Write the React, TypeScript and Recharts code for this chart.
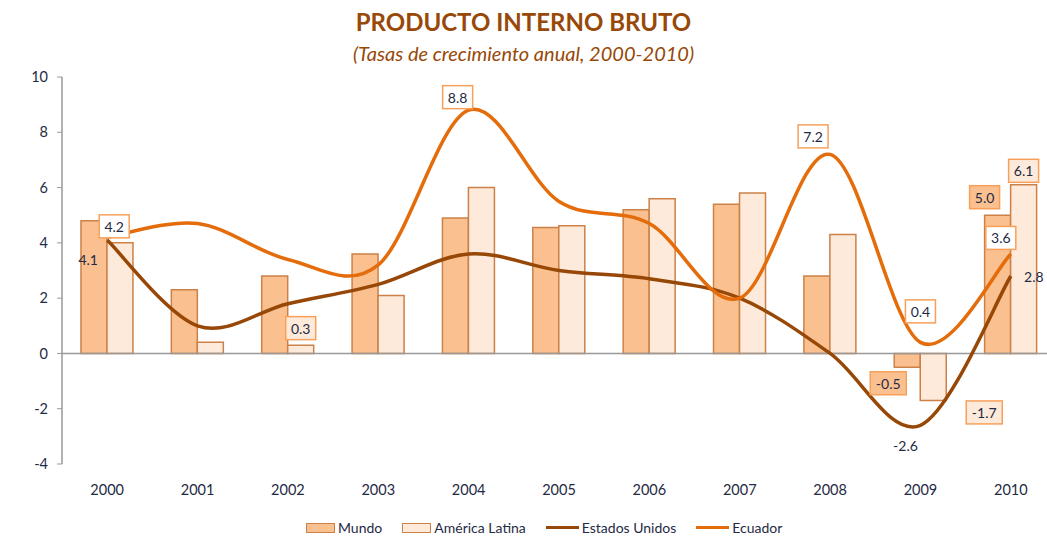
import React from 'react';
import {
  ComposedChart,
  Bar,
  Line,
  XAxis,
  YAxis,
  ReferenceLine,
  LabelList,
  Legend,
} from 'recharts';

const years = ['2000', '2001', '2002', '2003', '2004', '2005', '2006', '2007', '2008', '2009', '2010'];
const mundo = [4.8, 2.3, 2.8, 3.6, 4.9, 4.56, 5.2, 5.4, 2.8, -0.5, 5.0];
const americaLatina = [4.0, 0.4, 0.3, 2.1, 6.0, 4.62, 5.6, 5.8, 4.3, -1.7, 6.1];
const estadosUnidos = [4.1, 1.0, 1.8, 2.5, 3.6, 3.0, 2.7, 2.0, 0.0, -2.6, 2.8];
const ecuador = [4.2, 4.7, 3.4, 3.2, 8.8, 5.5, 4.7, 2.0, 7.2, 0.4, 3.6];
const yTicks = [-4, -2, 0, 2, 4, 6, 8, 10];
const legendOrder = ['Mundo', 'América Latina', 'Estados Unidos', 'Ecuador'];

const data = years.map((year, i) => ({
  year,
  mundo: mundo[i],
  americaLatina: americaLatina[i],
  estadosUnidos: estadosUnidos[i],
  ecuador: ecuador[i],
}));

const FONT = 'Lato, "Open Sans", sans-serif';
const TEXT = '#1F2A44';
const C_MUNDO_FILL = '#FAC090';
const C_AL_FILL = '#FDEADA';
const C_BAR_STROKE = '#CC8148';
const C_US = '#974706';
const C_EC = '#E46C0A';
const C_BOX = '#F8A05A';

// Excel-like smooth curve (Catmull-Rom through the points)
const excelCurve = (context: any) => {
  let pts: [number, number][] = [];
  return {
    areaStart() {},
    areaEnd() {},
    lineStart() {
      pts = [];
    },
    lineEnd() {
      const n = pts.length;
      if (n === 0) return;
      context.moveTo(pts[0][0], pts[0][1]);
      for (let i = 0; i < n - 1; i++) {
        const p0 = pts[i - 1] || pts[i];
        const p1 = pts[i];
        const p2 = pts[i + 1];
        const p3 = pts[i + 2] || pts[i + 1];
        const c1x = p1[0] + (p2[0] - p0[0]) / 6;
        const c1y = p1[1] + (p2[1] - p0[1]) / 6;
        const c2x = p2[0] - (p3[0] - p1[0]) / 6;
        const c2y = p2[1] - (p3[1] - p1[1]) / 6;
        context.bezierCurveTo(c1x, c1y, c2x, c2y, p2[0], p2[1]);
      }
    },
    point(x: number, y: number) {
      pts.push([+x, +y]);
    },
  };
};

type Offsets = Record<number, [number, number]>;

const makeLabel =
  (offsets: Offsets, boxFill: string | null, isBar: boolean) =>
  (props: any) => {
    const idx = props.index;
    if (!(idx in offsets)) return null;
    const vb = props.viewBox || {};
    const x = vb.x ?? props.x;
    const y = vb.y ?? props.y;
    const w = vb.width ?? props.width ?? 0;
    const h = vb.height ?? props.height ?? 0;
    const value = Number(props.value);
    let ax = x;
    let ay = y;
    if (isBar) {
      ax = x + w / 2;
      ay = value >= 0 ? Math.min(y, y + h) : Math.max(y, y + h);
    }
    const [dx, dy] = offsets[idx];
    const cx = ax + dx;
    const cy = ay + dy;
    const text = value.toFixed(1);
    const bw = text.length * 6 + 12;
    const bh = 23;
    return (
      <g>
        {boxFill && (
          <rect
            x={cx - bw / 2}
            y={cy - bh / 2}
            width={bw}
            height={bh}
            fill={boxFill}
            stroke={C_BOX}
            strokeWidth={1.5}
          />
        )}
        <text
          x={cx}
          y={cy}
          textAnchor="middle"
          dominantBaseline="central"
          fontFamily={FONT}
          fontSize={14}
          fill={TEXT}
        >
          {text}
        </text>
      </g>
    );
  };

const ecuadorOffsets: Offsets = { 0: [7, -11], 4: [-11, -13], 8: [-17, -18], 9: [0, -31], 10: [-10, -16] };
const usOffsets: Offsets = { 0: [-19, 19], 9: [-15, 20], 10: [23, 0] };
const mundoOffsets: Offsets = { 9: [-19, 16], 10: [-13, -18] };
const alOffsets: Offsets = { 2: [0, -17], 9: [51, 12], 10: [0, -14] };

const renderLegend = (props: any) => {
  const payload = [...(props.payload || [])].sort(
    (a: any, b: any) => legendOrder.indexOf(a.value) - legendOrder.indexOf(b.value)
  );
  return (
    <div
      style={{
        display: 'flex',
        alignItems: 'center',
        paddingLeft: 306,
        fontFamily: FONT,
        fontSize: 14,
        color: TEXT,
      }}
    >
      {payload.map((p: any, i: number) => {
        const isBar = p.type === 'rect';
        const fill = p.value === 'Mundo' ? C_MUNDO_FILL : C_AL_FILL;
        return (
          <div key={i} style={{ display: 'flex', alignItems: 'center', marginRight: 20 }}>
            {isBar ? (
              <span
                style={{
                  display: 'inline-block',
                  width: 27,
                  height: 8,
                  background: fill,
                  border: `1.5px solid ${C_BAR_STROKE}`,
                  marginRight: 3,
                }}
              />
            ) : (
              <span
                style={{
                  display: 'inline-block',
                  width: 33,
                  height: 3,
                  background: p.color,
                  marginRight: 3,
                }}
              />
            )}
            <span>{p.value}</span>
          </div>
        );
      })}
    </div>
  );
};

export default function App() {
  return (
    <div
      style={{
        position: 'absolute',
        left: 0,
        top: 0,
        width: 1047,
        height: 541,
        overflow: 'hidden',
        background: '#FFFFFF',
      }}
    >
      <div
        style={{
          position: 'absolute',
          top: 7,
          left: 0,
          width: 1047,
          textAlign: 'center',
          fontFamily: FONT,
          fontWeight: 700,
          fontSize: 24,
          color: '#984807',
          lineHeight: '30px',
        }}
      >
        PRODUCTO INTERNO BRUTO
      </div>
      <div
        style={{
          position: 'absolute',
          top: 39,
          left: 0,
          width: 1047,
          textAlign: 'center',
          fontFamily: FONT,
          fontStyle: 'italic',
          fontSize: 20,
          color: '#984807',
          lineHeight: '28px',
        }}
      >
        (Tasas de crecimiento anual, 2000-2010)
      </div>
      <div style={{ position: 'absolute', left: 0, top: 0 }}>
        <ComposedChart
          width={1060}
          height={541}
          data={data}
          margin={{ top: 77, right: 4, bottom: 47, left: 22 }}
          barCategoryGap="21%"
          barGap={0}
        >
          <XAxis
            dataKey="year"
            axisLine={false}
            tickLine={false}
            tickSize={0}
            tickMargin={21}
            height={30}
            interval={0}
            tick={{ fontFamily: FONT, fontSize: 14.5, fill: TEXT }}
          />
          <YAxis
            domain={[-4, 10]}
            ticks={yTicks}
            interval={0}
            width={40}
            axisLine={{ stroke: '#999999', strokeWidth: 1.5 }}
            tickLine={{ stroke: '#999999' }}
            tickSize={5}
            tickMargin={9}
            tick={{ fontFamily: FONT, fontSize: 14.5, fill: TEXT }}
          />
          <ReferenceLine y={0} stroke="#999999" strokeWidth={1.5} />
          <Bar
            dataKey="mundo"
            name="Mundo"
            fill={C_MUNDO_FILL}
            stroke={C_BAR_STROKE}
            strokeWidth={1.5}
            isAnimationActive={false}
          >
            <LabelList dataKey="mundo" content={makeLabel(mundoOffsets, C_MUNDO_FILL, true)} />
          </Bar>
          <Bar
            dataKey="americaLatina"
            name="América Latina"
            fill={C_AL_FILL}
            stroke={C_BAR_STROKE}
            strokeWidth={1.5}
            isAnimationActive={false}
          >
            <LabelList dataKey="americaLatina" content={makeLabel(alOffsets, C_AL_FILL, true)} />
          </Bar>
          <Line
            dataKey="estadosUnidos"
            name="Estados Unidos"
            type={excelCurve as any}
            stroke={C_US}
            strokeWidth={3.5}
            dot={false}
            activeDot={false}
            isAnimationActive={false}
          >
            <LabelList dataKey="estadosUnidos" content={makeLabel(usOffsets, null, false)} />
          </Line>
          <Line
            dataKey="ecuador"
            name="Ecuador"
            type={excelCurve as any}
            stroke={C_EC}
            strokeWidth={3.5}
            dot={false}
            activeDot={false}
            isAnimationActive={false}
          >
            <LabelList dataKey="ecuador" content={makeLabel(ecuadorOffsets, '#FFFFFF', false)} />
          </Line>
          <Legend
            layout="horizontal"
            verticalAlign="middle"
            align="center"
            content={renderLegend}
            wrapperStyle={{ top: 519, left: 0, width: 1060, height: 20 }}
          />
        </ComposedChart>
      </div>
    </div>
  );
}
